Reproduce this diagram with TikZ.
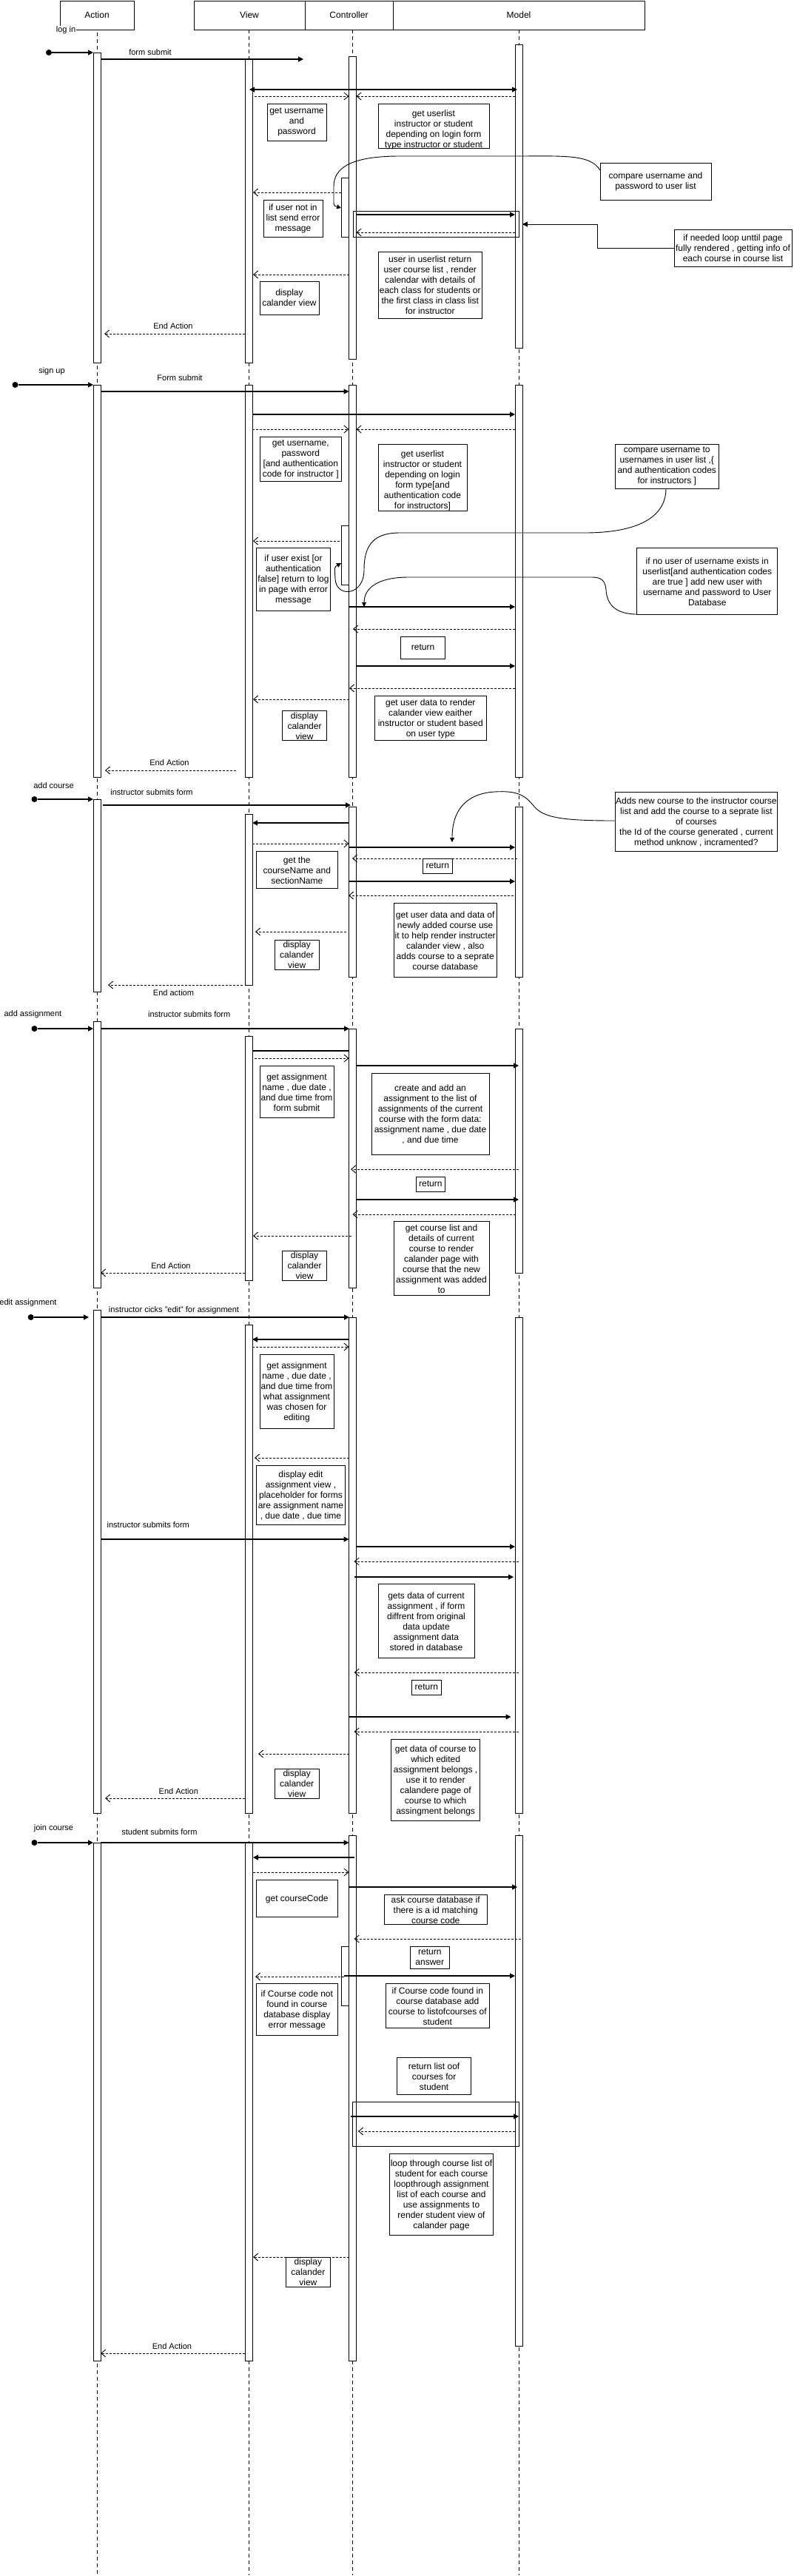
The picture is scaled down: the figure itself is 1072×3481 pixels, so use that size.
\documentclass[tikz,border=0pt]{standalone}
\usepackage{fontspec}
\setmainfont{Liberation Sans}
\usetikzlibrary{arrows.meta}
\newcommand\notefont{\fontsize{12}{14}\selectfont}
\newcommand\lblfont{\fontsize{11}{13}\selectfont}
% activation bar: name, x, y1, y2
\newcommand\lbar[4]{\node[actbar, minimum height={#4-#3}] (#1) at (#2,{(#3+#4)/2}) {};}
% note box: [text shift], name, x1, y1, x2, y2, text
\newcommand\nbox[7][0]{\draw[notebox] (#3,#4) rectangle (#5,#6);
  \node[notetxt] (#2) at ({(#3+#5)/2},{(#4+#6)/2+#1}) {#7};}
% message: name, style, x1, x2, y
\newcommand\msg[5]{\coordinate (#1s) at (#3,#5); \coordinate (#1e) at (#4,#5); \draw[#2] (#1s) -- (#1e);}
\begin{document}
\begin{tikzpicture}[x=1pt,y=-1pt,
 lifeln/.style={line width=0.7pt, dash pattern=on 5pt off 4pt},
 actbar/.style={draw, fill=white, line width=0.9pt, minimum width=10pt, inner sep=0pt},
 syncmsg/.style={line width=1.2pt, -{Triangle[length=7pt,width=7pt]}},
 dblmsg/.style={line width=1.2pt, {Triangle[length=7pt,width=7pt]}-{Triangle[length=7pt,width=7pt]}},
 retmsg/.style={line width=0.9pt, dash pattern=on 3pt off 2pt, -{Straight Barb[length=6pt,width=10pt]}},
 plainmsg/.style={line width=1.2pt},
 notebox/.style={line width=1pt},
 notetxt/.style={align=center, font=\notefont, inner sep=0pt},
 lbl/.style={font=\lblfont, inner sep=1pt},
 startdot/.style={circle, fill=black, minimum size=8pt, inner sep=0pt},
 hdr/.style={draw, line width=1pt, font=\notefont, inner sep=0pt, minimum height=39pt},
 crv/.style={line width=0.9pt, -{Triangle[length=6pt,width=6pt]}},
 framebox/.style={line width=1pt},
]
\useasboundingbox (0,0) rectangle (1072,3481);
\fill[white] (0,0) rectangle (1072,3481);
% ---------- header ----------
\node[hdr, minimum width=100pt] (hAct) at (131,20.5) {Action};
\node[hdr, minimum width=150pt] (hView) at (337,20.5) {View};
\node[hdr, minimum width=119pt] (hCtrl) at (471.5,20.5) {Controller};
\node[hdr, minimum width=340pt] (hModel) at (701,20.5) {Model};
\node[lbl, fill=white] (Llogin) at (89,41) {log in};
% ---------- lifelines ----------
\coordinate (aTop) at (131,44); \coordinate (aBot) at (131,3480);
\coordinate (vTop) at (336,40); \coordinate (vBot) at (336,3480);
\coordinate (cTop) at (476.5,40); \coordinate (cBot) at (476.5,3480);
\coordinate (mTop) at (701,40); \coordinate (mBot) at (701,3480);
\draw[lifeln] (aTop) -- (aBot);
\draw[lifeln] (vTop) -- (vBot);
\draw[lifeln] (cTop) -- (cBot);
\draw[lifeln] (mTop) -- (mBot);
% ---------- activation bars ----------
\lbar{a1}{131}{71}{490}   \lbar{v1}{336}{80}{490}   \lbar{c1}{476.5}{76}{485}   \lbar{m1}{701}{60}{470}
\lbar{c1n}{466.5}{240}{320}
\lbar{a2}{131}{520}{1050} \lbar{v2}{336}{520}{1050} \lbar{c2}{476.5}{520}{1050} \lbar{m2}{701}{520}{1050}
\lbar{c2n}{466.5}{710}{790}
\lbar{a3}{131}{1080}{1340} \lbar{v3}{336}{1100}{1331} \lbar{c3}{476.5}{1090}{1320} \lbar{m3}{701}{1090}{1320}
\lbar{a4}{131}{1380}{1740} \lbar{v4}{336}{1400}{1730} \lbar{c4}{476.5}{1390}{1740} \lbar{m4}{701}{1390}{1720}
\lbar{a5}{131}{1770}{2450} \lbar{v5}{336}{1790}{2450} \lbar{c5}{476.5}{1780}{2450} \lbar{m5}{701}{1780}{2450}
\lbar{a6}{131}{2490}{3190} \lbar{v6}{336}{2490}{3190} \lbar{c6}{476.5}{2480}{3190} \lbar{m6}{701}{2480}{3170}
\lbar{c6n}{466.5}{2630}{2710}

% ================= 1: log in =================
\node[startdot] (d1) at (66,71) {};
\coordinate (d1e) at (126,71); \draw[syncmsg] (d1) -- (d1e);
\node[lbl] (L1a) at (203,71) {form submit};
\msg{m1a}{syncmsg}{136}{410}{80}
\msg{m1b}{dblmsg}{337}{699}{121}
\msg{m1c}{retmsg}{344}{471.5}{130}
\msg{m1d}{retmsg}{696}{481.5}{130}
\nbox{n1a}{361}{140}{441}{190}{get username\\and\\password}
\nbox[5]{n1b}{511}{140}{661}{200}{get userlist\\instructor or student\\depending on login form\\type instructor or student}
\nbox{n1c}{811}{220}{961}{270}{compare username and\\password to user list}
\coordinate (k1s) at (811,230); \coordinate (k1e) at (461,281);
\draw[crv] (k1s) .. controls (798,208) and (760,211) .. (697,211) -- (540,211)
  .. controls (472,211) and (451,228) .. (451,252) -- (451,270) .. controls (451,278) .. (k1e);
\msg{m1e}{retmsg}{461}{342}{260}
\nbox{n1d}{356}{270}{436}{320}{if user not in\\list send error\\message}
\draw[framebox] (477,285) rectangle (701.4,320);
\msg{m1f}{syncmsg}{481.5}{696}{290}
\msg{m1g}{retmsg}{696}{481.5}{314}
\nbox{n1e}{911}{310}{1070}{360}{if needed loop unttil page\\fully rendered , getting info of\\each course in course list}
\coordinate (k2s) at (911,335); \coordinate (k2e) at (706,303);
\draw[syncmsg, line width=1pt] (k2s) -- (807,335) -- (807,303) -- (k2e);
\msg{m1h}{retmsg}{471.5}{342}{371}
\nbox{n1f}{351}{380}{431}{425}{display\\calander view}
\nbox{n1g}{511}{340}{651.5}{430}{user in userlist return\\user course list , render\\calendar with details of\\each class for students or\\the first class in class list\\for instructor}
\node[lbl] (L1b) at (234,441) {End Action};
\msg{m1i}{retmsg}{331}{141}{451}

% ================= 2: sign up =================
\node[lbl] (L2a) at (70,502) {sign up};
\node[lbl] (L2b) at (243,511) {Form submit};
\node[startdot] (d2) at (20.5,520) {};
\coordinate (d2e) at (126,520); \draw[syncmsg] (d2) -- (d2e);
\msg{m2a}{syncmsg}{136}{471.5}{529}
\msg{m2b}{syncmsg}{341}{696}{560}
\msg{m2c}{retmsg}{341}{471.5}{580}
\msg{m2d}{retmsg}{696}{481.5}{580}
\nbox[1]{n2a}{351}{590}{461.5}{650}{get username,\\password\\{[}and authentication\\code for instructor ]}
\nbox[4]{n2b}{511}{600}{631}{690}{get userlist\\instructor or student\\depending on login\\form type[and\\authentication code\\for instructors]}
\nbox{n2c}{831}{600}{971.5}{660}{compare username to\\usernames in user list ,\{\\and authentication codes\\for instructors ]}
\coordinate (k3s) at (900,660); \coordinate (k3e) at (461,761);
\draw[crv] (k3s) .. controls (900,700) and (860,720) .. (790,720) -- (540,720)
  .. controls (502,720) and (492,740) .. (492,770) .. controls (492,806) and (454,808) .. (453,782)
  .. controls (452,766) .. (k3e);
\msg{m2e}{retmsg}{459}{342}{731}
\nbox[1]{n2d}{346.6}{740}{446.4}{825}{if user exist [or\\authentication\\false] return to log\\in page with error\\message}
\nbox[1]{n2e}{860.7}{740}{1050.8}{830}{if no user of username exists in\\userlist[and authentication codes\\are true ] add new user with\\username and password to User\\Database}
\coordinate (k4s) at (861,830); \coordinate (k4e) at (492,820);
\draw[crv] (k4s) .. controls (830,830) and (820,815) .. (819,797) .. controls (818,784) and (812,780) .. (800,780)
  -- (552,780) .. controls (510,780) and (492,795) .. (k4e);
\msg{m2f}{syncmsg}{472}{696}{820}
\msg{m2g}{retmsg}{696}{477}{850}
\nbox{n2f}{541.5}{860}{601.6}{890}{return}
\msg{m2h}{syncmsg}{481.5}{696}{900}
\msg{m2i}{retmsg}{696}{472}{930}
\msg{m2j}{retmsg}{472}{342}{945}
\nbox[1]{n2g}{506.6}{940}{657}{1000}{get user data to render\\calander view eaither\\instructor or student based\\on user type}
\nbox[1]{n2h}{381.5}{960}{441.6}{1000}{display\\calander\\view}
\node[lbl] (L2c) at (229,1031) {End Action};
\msg{m2k}{retmsg}{319}{142}{1041}

% ================= 3: add course =================
\node[lbl] (L3a) at (72.5,1062) {add course};
\node[lbl] (L3b) at (205,1071) {instructor submits form};
\node[startdot] (d3) at (46.5,1080) {};
\coordinate (d3e) at (126,1080); \draw[syncmsg] (d3) -- (d3e);
\msg{m3a}{syncmsg}{139}{474}{1088}
\msg{m3b}{syncmsg}{471.5}{341}{1112}
\msg{m3c}{retmsg}{341}{471.5}{1140}
\msg{m3d}{syncmsg}{471.5}{696}{1145}
\msg{m3e}{retmsg}{699}{476}{1160}
\nbox{n3a}{571.6}{1160}{611.2}{1180}{return}
\nbox[1]{n3b}{346.6}{1150}{456}{1200}{get the\\courseName and\\sectionName}
\nbox[1]{n3c}{831}{1070}{1050.8}{1150}{Adds new course to the instructor course\\list and add the course to a seprate list\\of courses\\the Id of the course generated , current\\method unknow , incramented?}
\coordinate (k5s) at (831,1109); \coordinate (k5e) at (611,1138);
\draw[crv] (k5s) .. controls (760,1109) and (735,1105) .. (722,1090) .. controls (710,1075) and (700,1068) .. (668,1070)
  .. controls (625,1073) and (611,1100) .. (k5e);
\msg{m3f}{syncmsg}{471.5}{696}{1191}
\msg{m3g}{retmsg}{694}{471}{1210}
\msg{m3h}{retmsg}{468}{345}{1259}
\nbox[1]{n3d}{532}{1220}{671.4}{1320}{get user data and data of\\newly added course use\\it to help render instructer\\calander view  , also\\adds course to a seprate\\course database}
\nbox{n3e}{371}{1270}{431.4}{1310}{display\\calander\\view}
\msg{m3i}{retmsg}{328}{146}{1331}
\node[lbl] (L3c) at (234.5,1342) {End actiom};

% ================= 4: add assignment =================
\node[lbl] (L4a) at (44.4,1371) {add assignment};
\node[lbl] (L4b) at (255.7,1371) {instructor submits form};
\node[startdot] (d4) at (46.5,1390) {};
\coordinate (d4e) at (126,1390); \draw[syncmsg] (d4) -- (d4e);
\msg{m4a}{syncmsg}{136}{472}{1390}
\msg{m4b}{plainmsg}{341}{471.5}{1420}
\msg{m4c}{retmsg}{344}{471.5}{1430}
\msg{m4d}{syncmsg}{481.5}{701}{1440}
\nbox[1]{n4a}{351}{1440}{451}{1510}{get assignment\\name , due date ,\\and due time from\\form submit}
\nbox[1]{n4b}{502}{1450}{661}{1560}{create and add an\\assignment to the list of\\assignments of the current\\course with the form data:\\assignment name , due date\\, and due time}
\msg{m4e}{retmsg}{701}{474}{1580}
\nbox{n4c}{562}{1590}{601.6}{1610}{return}
\msg{m4f}{syncmsg}{481.5}{701}{1621}
\msg{m4g}{retmsg}{697}{476.5}{1641}
\msg{m4h}{retmsg}{475}{342}{1670}
\nbox[1]{n4d}{532}{1650}{661}{1750}{get course list and\\details of current\\course to render\\calander page with\\course that the new\\assignment was added\\to}
\nbox{n4e}{381.5}{1690}{441.6}{1730}{display\\calander\\view}
\node[lbl] (L4c) at (231,1711) {End Action};
\msg{m4i}{retmsg}{331}{136}{1720}

% ================= 5: edit assignment =================
\node[lbl] (L5a) at (38,1761) {edit assignment};
\node[lbl] (L5b) at (235,1771) {instructor cicks "edit" for assignment};
\node[startdot] (d5) at (41.7,1780) {};
\coordinate (d5e) at (120,1780); \draw[syncmsg] (d5) -- (d5e);
\msg{m5a}{syncmsg}{136}{472}{1780}
\msg{m5b}{syncmsg}{471.5}{341}{1810}
\msg{m5c}{retmsg}{341}{471.5}{1820}
\nbox[1]{n5a}{351}{1830}{451}{1930}{get assignment\\name , due date ,\\and due time from\\what assignment\\was chosen for\\editing}
\msg{m5d}{retmsg}{471.5}{344}{1970}
\nbox[1]{n5b}{346.6}{1980}{466.3}{2060}{display edit\\assignment view ,\\placeholder for forms\\are assignment name\\, due date , due time}
\node[lbl] (L5c) at (200.3,2061) {instructor submits form};
\msg{m5e}{syncmsg}{136}{471.5}{2080}
\msg{m5f}{syncmsg}{481.5}{696}{2090}
\msg{m5g}{retmsg}{701}{478.6}{2110}
\msg{m5h}{syncmsg}{478.6}{694}{2131}
\nbox[1]{n5c}{511}{2140}{641}{2240}{gets data of current\\assignment , if form\\diffrent from original\\data update\\assignment  data\\stored in database}
\msg{m5i}{retmsg}{701}{478.6}{2260}
\nbox{n5d}{556.5}{2270}{596}{2290}{return}
\msg{m5j}{syncmsg}{472}{690.5}{2320}
\msg{m5k}{retmsg}{701}{478.6}{2340}
\nbox[1]{n5e}{528.5}{2350}{648.8}{2460}{get data of course to\\which edited\\assignment belongs ,\\use it to render\\calandere page of\\course to which\\assingment belongs}
\msg{m5l}{retmsg}{472}{349}{2370}
\nbox{n5f}{371}{2390}{431.4}{2430}{display\\calander\\view}
\node[lbl] (L5d) at (241.3,2421) {End Action};
\msg{m5m}{retmsg}{331}{142}{2430}

% ================= 6: join course =================
\node[lbl] (L6a) at (72.5,2471) {join course};
\node[lbl] (L6b) at (215.4,2476) {student submits form};
\node[startdot] (d6) at (46.5,2490) {};
\coordinate (d6e) at (126,2490); \draw[syncmsg] (d6) -- (d6e);
\msg{m6a}{syncmsg}{136}{471.5}{2490}
\msg{m6b}{syncmsg}{478.6}{342}{2510}
\msg{m6c}{retmsg}{342}{471.5}{2530}
\msg{m6d}{syncmsg}{471.5}{699}{2550}
\nbox[1]{n6a}{346.6}{2540}{456}{2590}{get courseCode}
\nbox[1]{n6b}{519}{2560}{658.4}{2600}{ask course database if\\there is a id matching\\course code}
\msg{m6e}{retmsg}{704}{478.6}{2620}
\nbox{n6c}{554.5}{2630}{607}{2660}{return\\answer}
\msg{m6f}{retmsg}{465}{345}{2671}
\msg{m6g}{syncmsg}{465}{696}{2670}
\nbox[1]{n6d}{346.6}{2680}{456}{2750}{if Course code  not\\found in course\\database display\\error message}
\nbox[1]{n6e}{521.6}{2680}{661}{2740}{if Course code  found in\\course database add\\course to listofcourses of\\student}
\nbox[1]{n6f}{536.7}{2780}{636.5}{2830}{return list oof\\courses for\\student}
\draw[framebox] (476.5,2840) rectangle (701.4,2900);
\msg{m6h}{syncmsg}{474}{701}{2860}
\msg{m6i}{retmsg}{696}{484}{2880}
\nbox[1]{n6g}{526.4}{2910}{666.6}{3020}{loop through course list of\\student for each course\\loopthrough assignment\\list of each course   and\\use assignments to\\render student view of\\calander page}
\msg{m6j}{retmsg}{472}{342}{3050}
\nbox{n6h}{386.3}{3050}{446.4}{3090}{display\\calander\\view}
\node[lbl] (L6c) at (232.4,3171) {End Action};
\msg{m6k}{retmsg}{331}{136}{3180}
\end{tikzpicture}
\end{document}
